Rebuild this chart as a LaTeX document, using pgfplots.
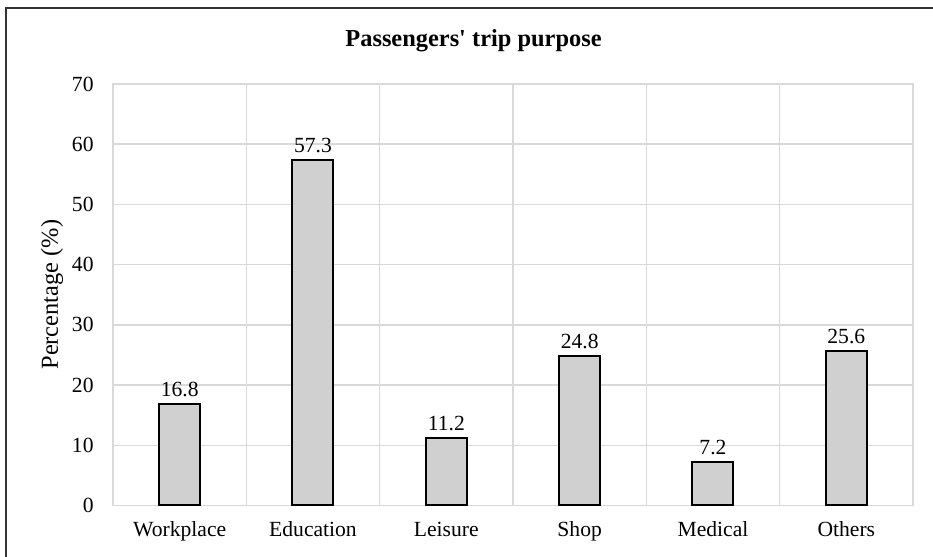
\documentclass[border=0pt]{standalone}
\usepackage{fontspec}
\setmainfont{Liberation Serif}
\usepackage{pgfplots}
\pgfplotsset{compat=1.18}
\definecolor{gridc}{HTML}{D9D9D9}
\definecolor{barc}{HTML}{D0D0D0}
\begin{document}
\begin{tikzpicture}
\useasboundingbox (-56.5pt,-25.75pt) rectangle (410pt,252.75pt);
\begin{axis}[
  at={(0,0)}, anchor=origin,
  scale only axis, width=400pt, height=210.75pt,
  xmin=0.5, xmax=6.5, ymin=0, ymax=70,
  xtick={1,2,3,4,5,6},
  xticklabels={Workplace,Education,Leisure,Shop,Medical,Others},
  minor xtick={1.5,2.5,3.5,4.5,5.5},
  ytick={0,10,...,70},
  ymajorgrids, xminorgrids,
  grid style={gridc, line width=0.75pt},
  minor grid style={gridc, line width=0.75pt},
  axis line style={gridc, line width=0.75pt},
  major tick length=0pt, minor tick length=0pt,
  tick style={draw=none},
  /pgf/number format/assume math mode=true,
  ticklabel style={font=\fontsize{10.8}{13}\selectfont},
  yticklabel style={anchor=east, inner sep=0pt, xshift=-9.5pt},
  xticklabel style={anchor=base, inner sep=0pt, yshift=-15.5pt},
  ybar, bar width=20.5pt,
  nodes near coords,
  nodes near coords style={anchor=base, inner sep=0pt, yshift=4pt, font=\fontsize{10.8}{13}\selectfont, /pgf/number format/fixed, /pgf/number format/fixed zerofill, /pgf/number format/precision=1},
  clip=false,
]
\addplot[fill=barc, draw=black, line width=1pt] coordinates {
  (1,16.8) (2,57.3) (3,11.2) (4,24.8) (5,7.2) (6,25.6)
};
\end{axis}
\node[font=\bfseries\fontsize{12.2}{14}\selectfont] at (180.25pt,232.25pt) {Passengers\textquotesingle{} trip purpose};
\node[rotate=90, font=\fontsize{12.2}{14}\selectfont] at (-30.5pt,105.4pt) {Percentage (\%)};
\draw[line width=1pt, black!80] (-53.5pt,-25.75pt) -- (-53.5pt,248.75pt) -- (410pt,248.75pt);
\end{tikzpicture}
\end{document}
